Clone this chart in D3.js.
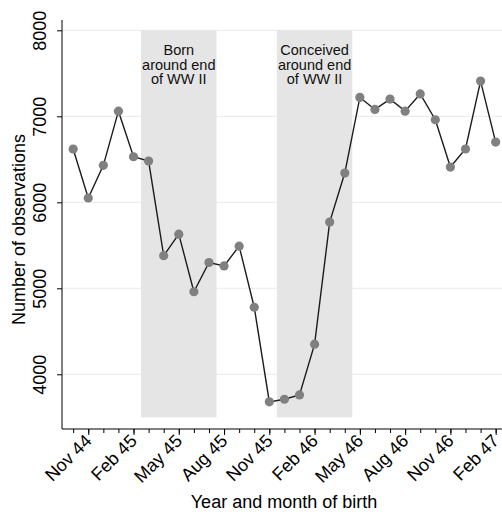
<!DOCTYPE html>
<html>
<head>
<meta charset="utf-8">
<script src="https://cdn.jsdelivr.net/npm/d3@7"></script>
<style>
  html, body { margin: 0; padding: 0; background: #fff; }
  svg { display: block; font-family: "Liberation Sans", Arial, Helvetica, sans-serif; }
</style>
</head>
<body>
<svg id="chart" width="502" height="512"></svg>
<script>
// Monthly birth cohorts, Oct 1944 – Feb 1947
const months = ["Oct 44", "Nov 44", "Dec 44", "Jan 45", "Feb 45", "Mar 45", "Apr 45", "May 45",
  "Jun 45", "Jul 45", "Aug 45", "Sep 45", "Oct 45", "Nov 45", "Dec 45", "Jan 46", "Feb 46",
  "Mar 46", "Apr 46", "May 46", "Jun 46", "Jul 46", "Aug 46", "Sep 46", "Oct 46", "Nov 46",
  "Dec 46", "Jan 47", "Feb 47"];
const observations = [6620, 6050, 6430, 7060, 6530, 6480, 5380, 5630, 4960, 5300, 5260, 5490,
  4780, 3680, 3710, 3760, 4350, 5770, 6340, 7220, 7080, 7200, 7060, 7260, 6960, 6410, 6620,
  7410, 6700];

const xTickLabels = ["Nov 44", "Feb 45", "May 45", "Aug 45", "Nov 45", "Feb 46", "May 46",
  "Aug 46", "Nov 46", "Feb 47"];
const yTicks = [4000, 5000, 6000, 7000, 8000];

// Shaded periods: first and last month covered (edges fall mid-month)
const periodStart = ["Feb 45", "Nov 45"];
const periodEnd = ["Jul 45", "Apr 46"];
const periodLabels = [["Born", "around end", "of WW II"], ["Conceived", "around end", "of WW II"]];
const periodLow = 3500, periodHigh = 8000;

(function () {
  const svg = d3.select("#chart");
  const plot = { left: 62, right: 502, top: 20, bottom: 429 };

  const idx = m => months.indexOf(m);
  const x = d3.scaleLinear().domain([-0.74, 28.42]).range([plot.left, plot.right]);
  const y = d3.scaleLinear().domain([3364, 8120]).range([plot.bottom, plot.top]);

  // Horizontal grid
  svg.append("g")
    .selectAll("line").data(yTicks).join("line")
    .attr("x1", plot.left).attr("x2", plot.right)
    .attr("y1", d => y(d)).attr("y2", d => y(d))
    .attr("stroke", "#eaeaea").attr("stroke-width", 1);

  // Shaded periods with their captions
  const periods = svg.append("g");
  periodStart.forEach((s, i) => {
    const x0 = x(idx(s) + 0.5), x1 = x(idx(periodEnd[i]) + 0.5);
    periods.append("rect")
      .attr("x", x0).attr("width", x1 - x0)
      .attr("y", y(periodHigh)).attr("height", y(periodLow) - y(periodHigh))
      .attr("fill", "#e5e5e5");
    const t = periods.append("text")
      .attr("text-anchor", "middle")
      .attr("font-size", 14.5).attr("fill", "#111");
    periodLabels[i].forEach((line, j) => {
      t.append("tspan").attr("x", (x0 + x1) / 2).attr("y", 55 + j * 14.5).text(line);
    });
  });

  // Series line and markers
  const line = d3.line().x((d, i) => x(i)).y(d => y(d));
  svg.append("path")
    .datum(observations)
    .attr("d", line)
    .attr("fill", "none").attr("stroke", "#1c1c1c").attr("stroke-width", 1.4);

  svg.append("g")
    .selectAll("circle").data(observations).join("circle")
    .attr("cx", (d, i) => x(i)).attr("cy", d => y(d))
    .attr("r", 4.6).attr("fill", "#808080");

  // Y axis
  const yAxis = svg.append("g")
    .attr("transform", `translate(${plot.left},0)`)
    .call(d3.axisLeft(y).tickValues(yTicks).tickSize(5).tickSizeOuter(0).tickFormat(d3.format("d")));
  yAxis.select(".domain").attr("d", `M0,${plot.top}V${plot.bottom}`);
  yAxis.selectAll(".tick text")
    .attr("x", 0).attr("y", -16.5).attr("dy", 0)
    .attr("transform", "rotate(-90)")
    .attr("text-anchor", "middle")
    .attr("font-size", 18);

  // X axis: minor monthly ticks and labelled quarterly ticks
  const xMinor = svg.append("g")
    .attr("transform", `translate(0,${plot.bottom})`)
    .call(d3.axisBottom(x).tickValues(d3.range(months.length)).tickSize(4).tickSizeOuter(0).tickFormat(""));
  xMinor.select(".domain").attr("d", `M${plot.left},0H${plot.right}`);

  const xAxis = svg.append("g")
    .attr("transform", `translate(0,${plot.bottom})`)
    .call(d3.axisBottom(x).tickValues(xTickLabels.map(idx)).tickSize(6).tickSizeOuter(0)
      .tickFormat(i => months[i]));
  xAxis.select(".domain").remove();
  xAxis.selectAll(".tick text")
    .attr("x", 0).attr("y", 0).attr("dy", 0)
    .attr("transform", "translate(4,13) rotate(-45)")
    .attr("text-anchor", "end")
    .attr("font-size", 18);

  svg.selectAll(".tick line, .domain").attr("stroke", "#000");
  svg.selectAll(".tick text").attr("fill", "#000");

  // Axis titles
  svg.append("text")
    .attr("x", (plot.left + plot.right) / 2 + 2).attr("y", 508)
    .attr("text-anchor", "middle").attr("font-size", 18)
    .text("Year and month of birth");
  svg.append("text")
    .attr("transform", `translate(25,${(plot.top + plot.bottom) / 2 + 5}) rotate(-90)`)
    .attr("text-anchor", "middle").attr("font-size", 18)
    .text("Number of observations");
})();
</script>
</body>
</html>
